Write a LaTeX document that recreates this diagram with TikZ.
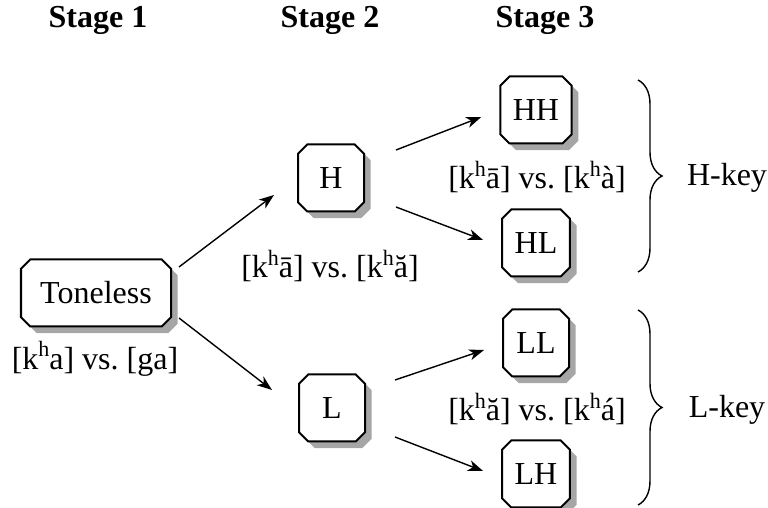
\documentclass[tikz,border=0pt]{standalone}
\usepackage{fontspec}
\setmainfont{Liberation Serif}
\usetikzlibrary{shapes.misc,shadows,arrows.meta,decorations.pathreplacing,calc}
\newcommand\hsup{\raisebox{0.85ex}{\fontsize{11}{11}\selectfont h}}
\begin{document}
\begin{tikzpicture}[x=0.5pt,y=-0.5pt,
  every node/.style={font=\fontsize{16}{19}\selectfont, inner sep=0pt},
  tbox/.style={chamfered rectangle, chamfered rectangle xsep=2.3pt, chamfered rectangle ysep=2.3pt,
    draw, line width=1pt, fill=white, minimum height=33.5pt, minimum width=33pt, inner xsep=4pt,
    drop shadow={shadow xshift=3.3pt, shadow yshift=-3.3pt, fill=gray!70, opacity=1}},
  stage/.style={font=\fontsize{16}{19}\selectfont\bfseries},
  arr/.style={-{Stealth[length=7.5pt,width=5.5pt,inset=2.2pt]}, line width=0.7pt},
  br/.style={decorate, decoration={brace, amplitude=12pt}, line width=0.7pt}
]
\useasboundingbox (0,0) rectangle (768,508);
\node[stage] (s1) at (98,20) {Stage 1};
\node[stage] (s2) at (330,20) {Stage 2};
\node[stage] (s3) at (545,20) {Stage 3};

\node[tbox, minimum width=75pt] (tone) at (96,293) {Toneless};
\node[tbox] (H) at (331,178) {H};
\node[tbox] (L) at (332,408) {L};
\node[tbox] (HH) at (536,110) {HH};
\node[tbox] (HL) at (536,243) {HL};
\node[tbox] (LL) at (536,343) {LL};
\node[tbox] (LH) at (536,474) {LH};

\node (t0) at (95,359) {[k\hsup a] vs.\ [ga]};
\node (t1) at (330,266) {[k\hsup ā] vs.\ [k\hsup ă]};
\node (t2) at (537,177) {[k\hsup ā] vs.\ [k\hsup à]};
\node (t3) at (537,409) {[k\hsup ă] vs.\ [k\hsup á]};

\draw[arr] ($(tone.east)+(7,-26)$) -- ($(H.west)+(-23,17)$);
\draw[arr] ($(tone.east)+(7,25)$) -- ($(L.west)+(-26,-18)$);
\draw[arr] ($(H.east)+(31,-28)$) -- ($(HH.west)+(-18,7)$);
\draw[arr] ($(H.east)+(31,29)$) -- ($(HL.west)+(-18,-3)$);
\draw[arr] ($(L.east)+(29,-28)$) -- ($(LL.west)+(-18,7)$);
\draw[arr] ($(L.east)+(29,29)$) -- ($(LH.west)+(-18,-3)$);

\coordinate (b1t) at (638,80);
\coordinate (b1b) at (638,272);
\coordinate (b2t) at (638,310);
\coordinate (b2b) at (638,505);
\draw[br] (b1t) -- (b1b);
\draw[br] (b2t) -- (b2b);
\node (hk) at (727,178) {H-key};
\node (lk) at (727,410) {L-key};
\end{tikzpicture}
\end{document}
